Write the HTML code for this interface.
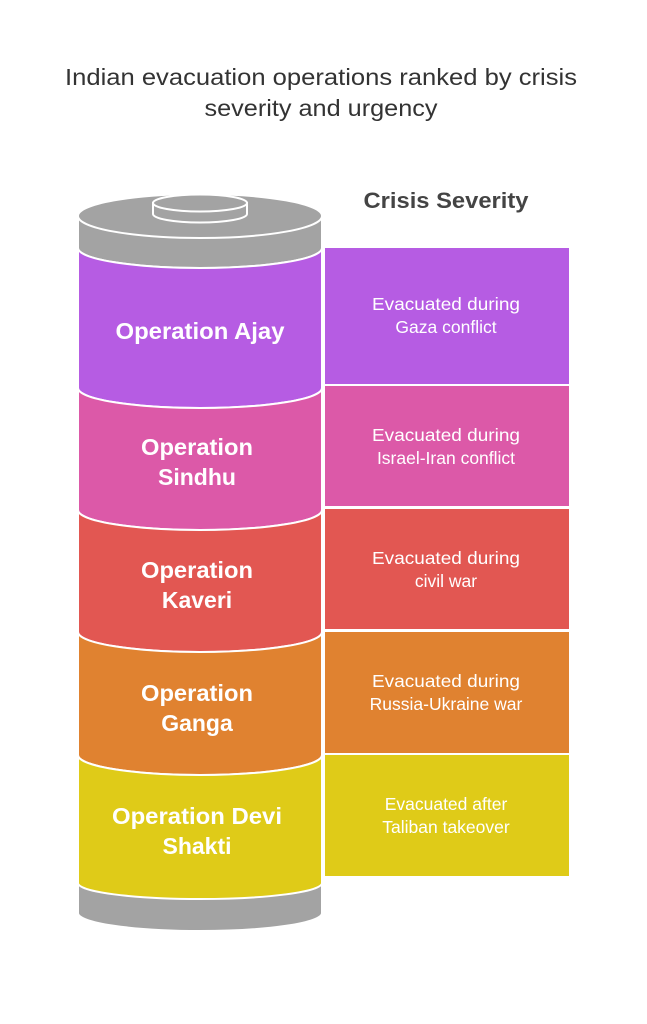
<!DOCTYPE html>
<html><head><meta charset="utf-8"><style>
body{margin:0;background:#fff;}
svg{display:block;font-family:"Liberation Sans",sans-serif;}
</style></head><body>
<svg width="647" height="1024" viewBox="0 0 647 1024">
<text x="321" y="85" text-anchor="middle" font-size="23" fill="#333" textLength="512" lengthAdjust="spacingAndGlyphs">Indian evacuation operations ranked by crisis</text>
<text x="321" y="116" text-anchor="middle" font-size="23" fill="#333" textLength="233" lengthAdjust="spacingAndGlyphs">severity and urgency</text>
<text x="446" y="208" text-anchor="middle" font-size="22" font-weight="bold" fill="#444" textLength="165" lengthAdjust="spacingAndGlyphs">Crisis Severity</text>
<g stroke="#fff" stroke-width="2">
<path d="M78,883 L78,913 A122,18 0 0 0 322,913 L322,883 Z" fill="#A3A3A3"/>
<path d="M78,216 L78,248 A122,20 0 0 0 322,248 L322,216 Z" fill="#A3A3A3"/>
<ellipse cx="200" cy="216" rx="122" ry="22" fill="#A3A3A3"/>
<path d="M153,203 L153,214 A47,8.5 0 0 0 247,214 L247,203 Z" fill="#A3A3A3"/>
<ellipse cx="200" cy="203" rx="47" ry="8.5" fill="#A3A3A3"/>
<path d="M78,248 A122,20 0 0 0 322,248 L322,388 A122,20 0 0 1 78,388 Z" fill="#B65CE3"/>
<path d="M78,388 A122,20 0 0 0 322,388 L322,510 A122,20 0 0 1 78,510 Z" fill="#DC59A8"/>
<path d="M78,510 A122,20 0 0 0 322,510 L322,632 A122,20 0 0 1 78,632 Z" fill="#E25752"/>
<path d="M78,632 A122,20 0 0 0 322,632 L322,755 A122,20 0 0 1 78,755 Z" fill="#E08230"/>
<path d="M78,755 A122,20 0 0 0 322,755 L322,883 A122,16 0 0 1 78,883 Z" fill="#DFCB18"/>
<rect x="324" y="247" width="246" height="138" fill="#B65CE3"/>
<rect x="324" y="385" width="246" height="122" fill="#DC59A8"/>
<rect x="324" y="508" width="246" height="122" fill="#E25752"/>
<rect x="324" y="631" width="246" height="123" fill="#E08230"/>
<rect x="324" y="754" width="246" height="123" fill="#DFCB18"/>
</g>
<g fill="#fff" font-weight="bold" font-size="23" text-anchor="middle">
<text x="200" y="339" textLength="169" lengthAdjust="spacingAndGlyphs">Operation Ajay</text>
<text x="197" y="455" textLength="112" lengthAdjust="spacingAndGlyphs">Operation</text><text x="197" y="485">Sindhu</text>
<text x="197" y="578" textLength="112" lengthAdjust="spacingAndGlyphs">Operation</text><text x="197" y="608">Kaveri</text>
<text x="197" y="701" textLength="112" lengthAdjust="spacingAndGlyphs">Operation</text><text x="197" y="731">Ganga</text>
<text x="197" y="824" textLength="170" lengthAdjust="spacingAndGlyphs">Operation Devi</text><text x="197" y="854">Shakti</text>
</g>
<g fill="#fff" font-size="17.5" text-anchor="middle">
<text x="446" y="310" textLength="148" lengthAdjust="spacingAndGlyphs">Evacuated during</text><text x="446" y="333">Gaza conflict</text>
<text x="446" y="441" textLength="148" lengthAdjust="spacingAndGlyphs">Evacuated during</text><text x="446" y="464">Israel-Iran conflict</text>
<text x="446" y="564" textLength="148" lengthAdjust="spacingAndGlyphs">Evacuated during</text><text x="446" y="587">civil war</text>
<text x="446" y="687" textLength="148" lengthAdjust="spacingAndGlyphs">Evacuated during</text><text x="446" y="710">Russia-Ukraine war</text>
<text x="446" y="810">Evacuated after</text><text x="446" y="833">Taliban takeover</text>
</g>
</svg>
</body></html>
